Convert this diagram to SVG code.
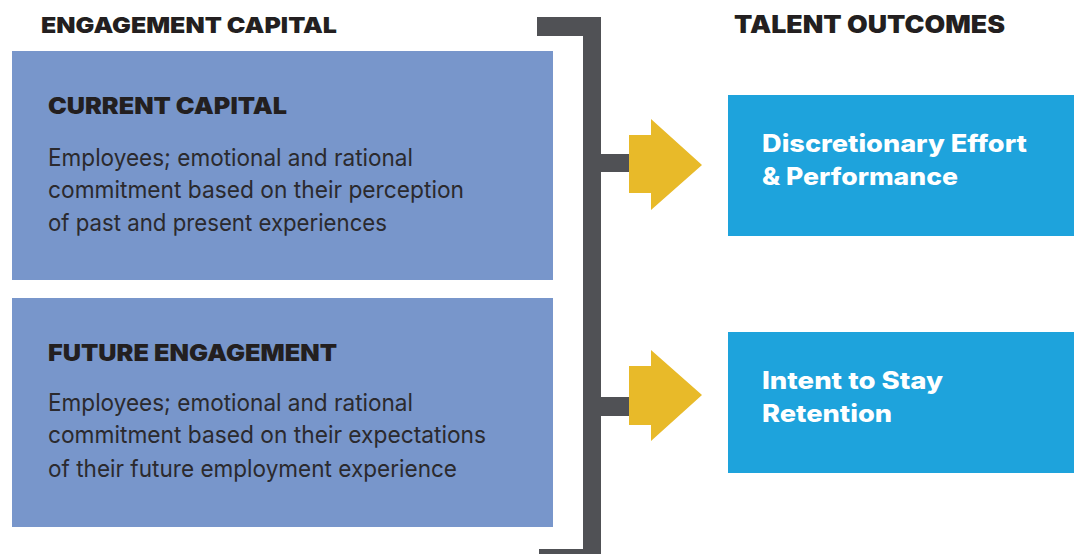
<svg xmlns="http://www.w3.org/2000/svg" width="1074" height="554" viewBox="0 0 1074 554">
<style>
.hdr{font-family:Inter,"Liberation Sans",Arial,sans-serif;font-weight:900;fill:#231F20}
.body{font-family:Inter,"Liberation Sans",Arial,sans-serif;font-size:24px;font-weight:400;fill:#2B2A2E}
.wt{font-family:Inter,"Liberation Sans",Arial,sans-serif;font-weight:800;font-size:24px;fill:#FFFFFF}
.lbox{fill:#7896CB}
.rbox{fill:#1EA3DC}
.bar{fill:#505155}
.arr{fill:#E8BA29}
</style>
<rect width="1074" height="554" fill="#FFFFFF"/>
<g id="title-left"><text class="hdr" x="41" y="33" font-size="22" textLength="296" lengthAdjust="spacingAndGlyphs">ENGAGEMENT CAPITAL</text></g>
<g id="title-right"><text class="hdr" x="734" y="33" font-size="24" textLength="271" lengthAdjust="spacingAndGlyphs">TALENT OUTCOMES</text></g>
<g id="current-capital">
<rect class="lbox" x="12" y="51" width="541" height="229"/>
<text class="hdr" x="48" y="114" font-size="23" textLength="239" lengthAdjust="spacingAndGlyphs">CURRENT CAPITAL</text>
<text class="body" x="48" y="166" textLength="365" lengthAdjust="spacingAndGlyphs">Employees; emotional and rational</text>
<text class="body" x="48" y="198" textLength="416" lengthAdjust="spacingAndGlyphs">commitment based on their perception</text>
<text class="body" x="48" y="231" textLength="339" lengthAdjust="spacingAndGlyphs">of past and present experiences</text>
</g>
<g id="future-engagement">
<rect class="lbox" x="12" y="298" width="541" height="229"/>
<text class="hdr" x="48" y="361" font-size="23" textLength="289" lengthAdjust="spacingAndGlyphs">FUTURE ENGAGEMENT</text>
<text class="body" x="48" y="411" textLength="365" lengthAdjust="spacingAndGlyphs">Employees; emotional and rational</text>
<text class="body" x="48" y="443" textLength="438" lengthAdjust="spacingAndGlyphs">commitment based on their expectations</text>
<text class="body" x="48" y="477" textLength="409" lengthAdjust="spacingAndGlyphs">of their future employment experience</text>
</g>
<g id="discretionary-effort">
<rect class="rbox" x="728" y="95" width="346" height="141"/>
<text class="wt" x="762" y="152" textLength="265" lengthAdjust="spacingAndGlyphs">Discretionary Effort</text>
<text class="wt" x="762" y="185" textLength="196" lengthAdjust="spacingAndGlyphs">&amp; Performance</text>
</g>
<g id="intent-to-stay">
<rect class="rbox" x="728" y="332" width="346" height="141"/>
<text class="wt" x="762" y="389" textLength="181" lengthAdjust="spacingAndGlyphs">Intent to Stay</text>
<text class="wt" x="762" y="422" textLength="130" lengthAdjust="spacingAndGlyphs">Retention</text>
</g>
<g id="connectors">
<path class="bar" d="M537,17 H601 V554 H539 V549 H583 V36 H537 Z"/>
<rect class="bar" x="600" y="154" width="30" height="18"/>
<rect class="bar" x="600" y="397" width="30" height="19"/>
<polygon class="arr" points="629,135 651,135 651,119 702,165 651,210 651,193 629,193"/>
<polygon class="arr" points="629,366 651,366 651,350 702,395 651,441 651,425 629,425"/>
</g>
</svg>
